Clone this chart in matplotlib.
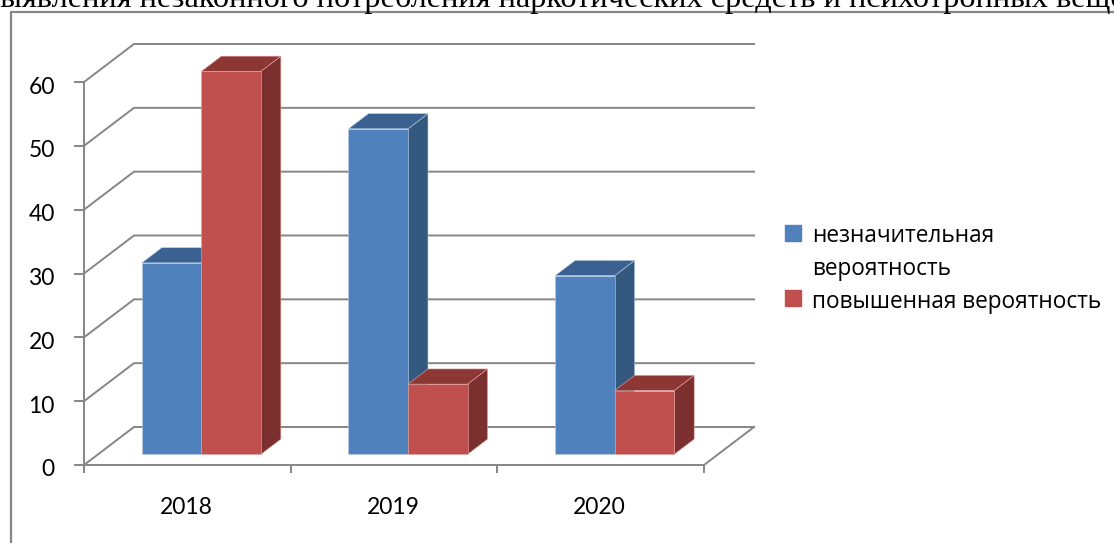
import matplotlib
matplotlib.use('Agg')
import matplotlib.pyplot as plt
from matplotlib.patches import Polygon, Rectangle
from matplotlib.transforms import ScaledTranslation

years = ['2018', '2019', '2020']
low_prob = [30, 51, 28]
high_prob = [60, 11, 10]
y_ticks = [0, 10, 20, 30, 40, 50, 60]
low_label = 'незначительная\nвероятность'
high_label = 'повышенная вероятность'
title = 'выявления незаконного потребления наркотических средств и психотропных веществ'

W, H = 1114, 543
GREY = '#868686'
BLUE = ('#4F81BD', '#35587F', '#3A618F', '#B9CDE5')
RED = ('#C0504D', '#7B2F2E', '#8D3735', '#E6A5A3')

# fake 3d: how far the back wall is shifted from the front plane, in data units
DEPTH_X = 50 / 206.67
DEPTH_Y = 38 / 6.383
BAR_W = 0.288
BAR_START = 0.28   # bars start this far into the depth
BAR_DEPTH = 0.40   # and take this much of it

fig = plt.figure(figsize=(W / 100, H / 100), dpi=100)
ax = fig.add_axes([84 / W, 1 - 465 / H, 620 / W, 383 / H])
ax.set_xlim(-0.5, 2.5)
ax.set_ylim(0, 60)
ax.patch.set_visible(False)


def draw_bar(x0, value, colors):
    front, side, top, edge = colors
    bx = x0 + BAR_START * DEPTH_X
    by = BAR_START * DEPTH_Y
    dx = BAR_DEPTH * DEPTH_X
    dy = BAR_DEPTH * DEPTH_Y
    x1 = bx + BAR_W
    y1 = by + value
    shapes = [
        ([(x1, by), (x1 + dx, by + dy), (x1 + dx, y1 + dy), (x1, y1)], side),
        ([(bx, y1), (x1, y1), (x1 + dx, y1 + dy), (bx + dx, y1 + dy)], top),
        ([(bx, by), (x1, by), (x1, y1), (bx, y1)], front),
    ]
    for pts, col in shapes:
        ax.add_patch(Polygon(pts, closed=True, facecolor=col, edgecolor=edge,
                             linewidth=0.4, clip_on=False, zorder=3))


# ==== Walls and floor ====
for v in y_ticks:
    ax.plot([-0.5, -0.5 + DEPTH_X, 2.5 + DEPTH_X], [v, v + DEPTH_Y, v + DEPTH_Y],
            color=GREY, lw=1.4, clip_on=False, zorder=1)
ax.plot([2.5, 2.5 + DEPTH_X], [0, DEPTH_Y], color=GREY, lw=1.4, clip_on=False, zorder=1)

# ==== Bars ====
for i in range(len(years)):
    draw_bar(i - BAR_W, low_prob[i], BLUE)
    draw_bar(i, high_prob[i], RED)

# ==== Axes ====
for side in ['top', 'right']:
    ax.spines[side].set_visible(False)
for side in ['left', 'bottom']:
    ax.spines[side].set_color(GREY)
    ax.spines[side].set_linewidth(1.4)
ax.set_yticks(y_ticks)
ax.set_xticks([-0.5, 0.5, 1.5, 2.5])
ax.set_xticklabels([])
ax.set_xticks([0, 1, 2], minor=True)
ax.set_xticklabels(years, minor=True, fontfamily='Lato', fontsize=16.5)
ax.tick_params(axis='x', which='major', length=6, width=1.4, color=GREY)
ax.tick_params(axis='x', which='minor', length=0, pad=23)
ax.tick_params(axis='y', length=7, width=1.4, color=GREY, pad=14, labelsize=16.5)
# labels sit a bit lower and to the left in the original
nudge_y = ScaledTranslation(0, -3 / 100, fig.dpi_scale_trans)
nudge_x = ScaledTranslation(-1 / 100, 0, fig.dpi_scale_trans)
for lab in ax.get_yticklabels():
    lab.set_fontfamily('Lato')
    lab.set_transform(lab.get_transform() + nudge_y)
for lab in ax.get_xticklabels(minor=True):
    lab.set_transform(lab.get_transform() + nudge_x)

# ==== Frame, cut off by the picture like the title ====
fig.add_artist(plt.Line2D([11 / W, 11 / W, 1], [0, 1 - 12 / H, 1 - 12 / H],
                          color=GREY, lw=1.6))
fig.text(-15 / W, 1 - 7 / H, title, fontfamily='Liberation Serif', fontsize=23.3,
         va='baseline', ha='left', color='black')

# ==== Legend ====
fig.add_artist(Rectangle((785 / W, 1 - 241 / H), 16 / W, 16 / H,
                         transform=fig.transFigure, color=BLUE[0]))
fig.add_artist(Rectangle((785 / W, 1 - 306 / H), 16 / W, 16 / H,
                         transform=fig.transFigure, color=RED[0]))
fig.text(812 / W, 1 - 242 / H, low_label.split('\n')[0], fontfamily='Open Sans', fontsize=16.3, va='baseline')
fig.text(812 / W, 1 - 275 / H, low_label.split('\n')[1], fontfamily='Open Sans', fontsize=16.3, va='baseline')
fig.text(812 / W, 1 - 308 / H, high_label, fontfamily='Open Sans', fontsize=16.3, va='baseline')

fig.savefig('out.png', dpi=100)
